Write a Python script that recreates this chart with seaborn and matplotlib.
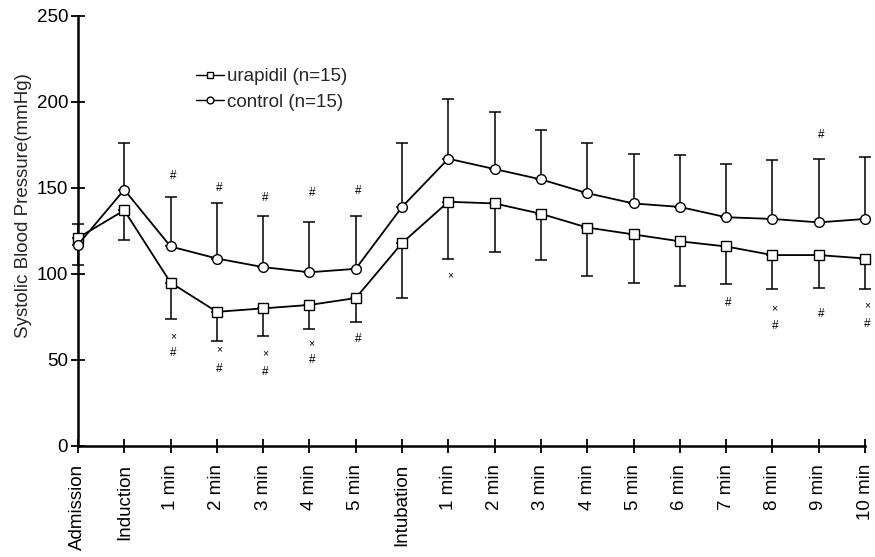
import numpy as np
import pandas as pd
import seaborn as sns
import matplotlib
matplotlib.use("Agg")
import matplotlib.pyplot as plt

# Time points along the anaesthesia protocol
timepoints = ["Admission", "Induction", "1 min", "2 min", "3 min", "4 min", "5 min",
              "Intubation", "1 min", "2 min", "3 min", "4 min", "5 min", "6 min",
              "7 min", "8 min", "9 min", "10 min"]

# Mean systolic blood pressure (mmHg)
urapidil_mean = [121, 137, 95, 78, 80, 82, 86, 118, 142, 141, 135, 127, 123, 119, 116, 111, 111, 109]
control_mean = [117, 149, 116, 109, 104, 101, 103, 139, 167, 161, 155, 147, 141, 139, 133, 132, 130, 132]

# Standard deviations (urapidil drawn downward, control drawn upward)
urapidil_sd = [16, 17, 21, 17, 16, 14, 14, 32, 33, 28, 27, 28, 28, 26, 22, 20, 19, 18]
control_sd = [12, 27, 29, 32, 30, 29, 31, 37, 35, 33, 29, 29, 29, 30, 31, 34, 37, 36]

# Significance marks: (time index, y position, symbol)
marks_index = [2, 2, 2, 3, 3, 3, 4, 4, 4, 5, 5, 5, 6, 6, 8, 14, 15, 15, 16, 16, 17, 17]
marks_y = [157, 64, 54, 150, 56, 45, 144, 54, 43, 147, 60, 50, 148, 62, 99, 83, 80, 70, 181, 77, 82, 71]
marks_symbol = ["#", "×", "#", "#", "×", "#", "#", "×", "#", "#", "×", "#", "#", "#", "×",
                "#", "×", "#", "#", "#", "×", "#"]

x = np.arange(len(timepoints))
df = pd.DataFrame({
    "pos": np.concatenate([x, x]),
    "sbp": urapidil_mean + control_mean,
    "group": ["urapidil (n=15)"] * len(x) + ["control (n=15)"] * len(x),
})

sns.set_style("ticks")
plt.rcParams["font.family"] = ["Liberation Sans", "DejaVu Sans"]

fig = plt.figure(figsize=(8.75, 5.57), dpi=100)
ax = fig.add_axes([0.0891, 0.1993, 0.8995, 0.772])

# one-sided error bars
for mean, lo, hi in [(urapidil_mean, urapidil_sd, np.zeros(len(x))),
                     (control_mean, np.zeros(len(x)), control_sd)]:
    eb = ax.errorbar(x, mean, yerr=[lo, hi], fmt="none", ecolor="black",
                     elinewidth=1.1, capsize=4, capthick=1.1, zorder=2)
    for part in eb.get_children():
        part.set_clip_on(False)

sns.lineplot(data=df, x="pos", y="sbp", hue="group", style="group",
             markers={"urapidil (n=15)": "s", "control (n=15)": "o"},
             dashes=False, palette={"urapidil (n=15)": "black", "control (n=15)": "black"},
             markerfacecolor="white", markeredgecolor="black", markeredgewidth=1.0,
             markersize=7, linewidth=1.3, ax=ax, zorder=3, legend=True, clip_on=False)

for i, yv, s in zip(marks_index, marks_y, marks_symbol):
    ax.text(x[i] + 0.05, yv, s, ha="center", va="center",
            fontsize=8.5 if s == "#" else 7.5, color="black")

ax.set_xlim(0, len(x) - 1)
ax.set_ylim(0, 250)
ax.set_yticks([0, 50, 100, 150, 200, 250])
ax.set_xticks(x)
ax.set_xticklabels(timepoints, rotation=90, fontsize=13.5)
ax.tick_params(axis="y", labelsize=13.5, pad=2)
ax.tick_params(axis="x", pad=8)
ax.tick_params(direction="inout", length=10, width=1.3, colors="black")
ax.set_xlabel("")
ax.set_ylabel("Systolic Blood Pressure(mmHg)", fontsize=13.5)
ax.yaxis.set_label_coords(-0.058, 0.56)

sns.despine(ax=ax)
for side in ["left", "bottom"]:
    ax.spines[side].set_linewidth(1.8)
    ax.spines[side].set_color("black")

leg = ax.legend(loc="upper left", bbox_to_anchor=(0.128, 0.918), frameon=False,
                fontsize=13.5, handlelength=1.5, handletextpad=0.2, labelspacing=0.45,
                markerscale=0.7)
for h in leg.get_lines():
    h.set_linewidth(1.0)

fig.savefig("out.png", dpi=100)
